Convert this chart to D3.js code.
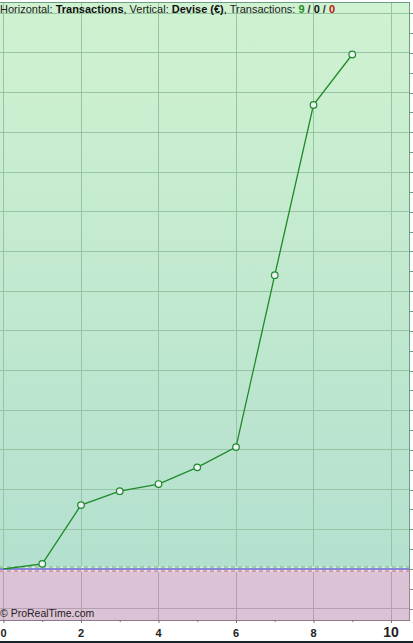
<!DOCTYPE html>
<html><head><meta charset="utf-8">
<script src="https://cdn.jsdelivr.net/npm/d3@7"></script>
<style>html,body{margin:0;padding:0;background:#fff;overflow:hidden}svg{display:block}</style>
</head><body>
<script>
const trades = [0,1,2,3,4,5,6,7,8,9];
const equity = [0,130,1610,1960,2140,2560,3070,7400,11690,12960];
const xTicks = [0,2,4,6,8,10];
const title = [
  {t:"Horizontal: ",w:"normal",c:"#222"},
  {t:"Transactions",w:"bold",c:"#111"},
  {t:", Vertical: ",w:"normal",c:"#222"},
  {t:"Devise (€)",w:"bold",c:"#111"},
  {t:", Transactions: ",w:"normal",c:"#222"},
  {t:"9",w:"bold",c:"#2a8a2a"},
  {t:" / ",w:"bold",c:"#333"},
  {t:"0",w:"bold",c:"#111"},
  {t:" / ",w:"bold",c:"#333"},
  {t:"0",w:"bold",c:"#c01010"}
];

const W=413,H=643;
const L=0,R=409,T=2,B=620;
const svg=d3.select("body").append("svg").attr("width",W).attr("height",H);
const x=d3.scaleLinear().domain([0,10]).range([3.5,391]);
const y=d3.scaleLinear().domain([0,1000]).range([569,529.3]);
const yTop=y.invert(T), yBot=y.invert(B);

const defs=svg.append("defs");
const g=defs.append("linearGradient").attr("id","bg").attr("x1",0).attr("x2",0).attr("y1",0).attr("y2",1);
g.append("stop").attr("offset","0").attr("stop-color","#cff2d0");
g.append("stop").attr("offset","1").attr("stop-color","#b4e0cf");

svg.append("rect").attr("x",0).attr("y",0).attr("width",W).attr("height",H).attr("fill","#fff");
svg.append("rect").attr("x",L).attr("y",T).attr("width",R-L).attr("height",y(0)-T).attr("fill","url(#bg)");
svg.append("rect").attr("x",L).attr("y",y(0)).attr("width",R-L).attr("height",B-y(0)).attr("fill","#dcc2d5");

// grid
const yGrid=d3.range(Math.ceil(yBot/1000)*1000, yTop, 1000);
svg.append("g").selectAll("line").data(yGrid).join("line")
  .attr("x1",L).attr("x2",R).attr("y1",d=>y(d)).attr("y2",d=>y(d))
  .attr("stroke",d=>d<0?"#b49eb2":"#98c4a6").attr("stroke-width",1).attr("shape-rendering","crispEdges");
svg.append("g").selectAll("line").data(xTicks).join("line")
  .attr("x1",d=>x(d)).attr("x2",d=>x(d)).attr("y1",T).attr("y2",y(0))
  .attr("stroke","#98c4a6").attr("shape-rendering","crispEdges");
svg.append("g").selectAll("line").data(xTicks).join("line")
  .attr("x1",d=>x(d)).attr("x2",d=>x(d)).attr("y1",y(0)).attr("y2",B)
  .attr("stroke","#b49eb2").attr("shape-rendering","crispEdges");

// zero band
svg.append("rect").attr("x",L).attr("y",y(0)-2.5).attr("width",R-L).attr("height",5).attr("fill","#dfe4f2");
svg.append("line").attr("x1",L).attr("x2",R).attr("y1",y(0)-2).attr("y2",y(0)-2)
  .attr("stroke","#5cc05c").attr("stroke-dasharray","4,3");
svg.append("line").attr("x1",L).attr("x2",R).attr("y1",y(0)+2).attr("y2",y(0)+2)
  .attr("stroke","#d86060").attr("stroke-dasharray","4,3");
svg.append("line").attr("x1",L).attr("x2",R).attr("y1",y(0)).attr("y2",y(0))
  .attr("stroke","#2b2bc0").attr("stroke-width",1.2);

// frame
svg.append("line").attr("x1",L).attr("x2",R).attr("y1",T+0.5).attr("y2",T+0.5).attr("stroke","#6d9d82");
svg.append("line").attr("x1",R+0.5).attr("x2",R+0.5).attr("y1",T).attr("y2",y(0)).attr("stroke","#6d9d82");
svg.append("line").attr("x1",R+0.5).attr("x2",R+0.5).attr("y1",y(0)).attr("y2",B).attr("stroke","#9a8598");
svg.append("line").attr("x1",L).attr("x2",R+1).attr("y1",B+0.5).attr("y2",B+0.5).attr("stroke","#8a7a8a");

// right axis ticks
const yMinor=d3.range(Math.ceil(yBot/500)*500, yTop, 500);
svg.append("g").selectAll("line").data(yMinor).join("line")
  .attr("x1",R).attr("x2",R+4).attr("y1",d=>Math.round(y(d))+0.5).attr("y2",d=>Math.round(y(d))+0.5)
  .attr("stroke",d=>d<0?"#9a8598":"#6d9d82");

// x axis
const xa=svg.append("g").attr("transform",`translate(0,${B})`)
  .call(d3.axisBottom(x).tickValues(d3.range(0,11,1)).tickSize(3).tickFormat(""));
xa.select(".domain").remove();
xa.selectAll("line").attr("stroke","#777").attr("y2",d=>d%2?2:3);
svg.append("g").selectAll("text").data(xTicks).join("text")
  .attr("x",d=>x(d)).attr("y",637).attr("text-anchor","middle")
  .attr("font-family","Liberation Sans, Arial, sans-serif").attr("font-weight","bold")
  .attr("font-size",d=>d===10?14:11).attr("fill","#222").text(d=>d);

// bottom dark bar
svg.append("rect").attr("x",0).attr("y",641).attr("width",W).attr("height",2).attr("fill","#17262e");

// line
const line=d3.line().x((d,i)=>x(trades[i])).y(d=>y(d));
svg.append("path").datum(equity).attr("d",line).attr("fill","none")
  .attr("stroke","#1f8a2a").attr("stroke-width",1.3);
svg.append("g").selectAll("circle").data(equity.slice(1)).join("circle")
  .attr("cx",(d,i)=>x(trades[i+1])).attr("cy",d=>y(d)).attr("r",3.3)
  .attr("fill","#eef2f6").attr("stroke","#1f8a2a").attr("stroke-width",1.2);

// title
const tt=svg.append("text").attr("x",0).attr("y",13)
  .attr("font-family","Liberation Sans, Arial, sans-serif").attr("font-size",11);
tt.selectAll("tspan").data(title).join("tspan").attr("font-weight",d=>d.w).attr("fill",d=>d.c)
  .style("white-space","pre").text(d=>d.t);

// copyright
svg.append("text").attr("x",0).attr("y",617).attr("font-family","Liberation Sans, Arial, sans-serif")
  .attr("font-size",10.5).attr("fill","#222").text("© ProRealTime.com");
</script>
</body></html>
